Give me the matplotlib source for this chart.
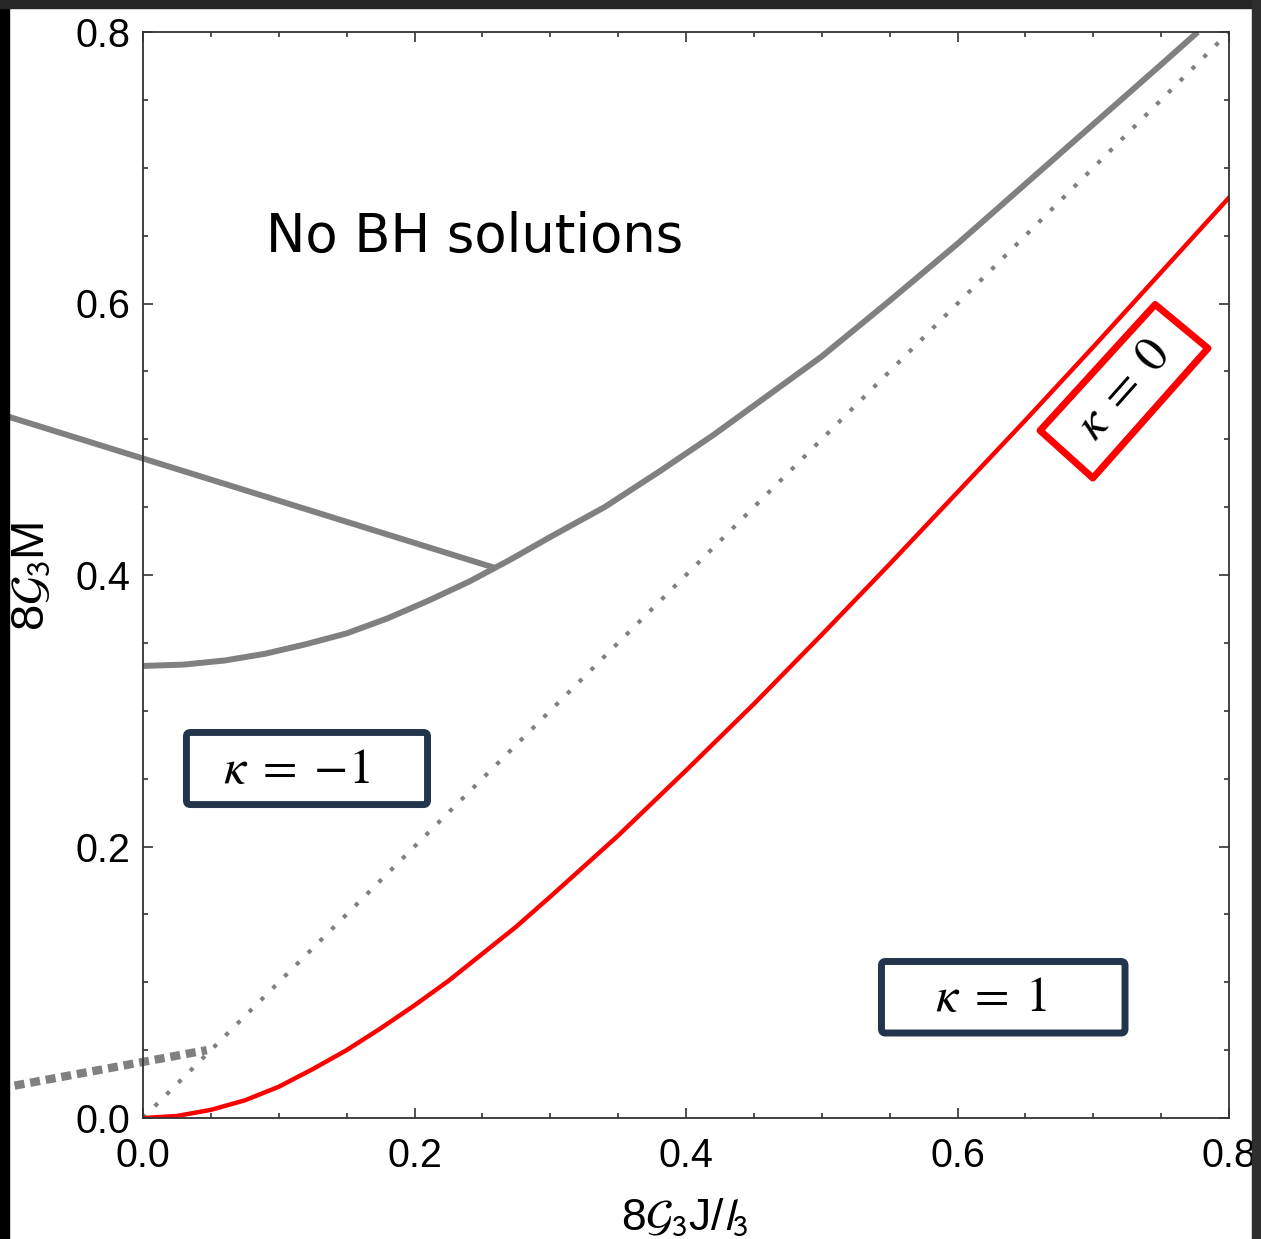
import numpy as np
import matplotlib
matplotlib.use("Agg")
import matplotlib.pyplot as plt
from matplotlib.patches import Rectangle, FancyBboxPatch, Polygon

plt.rcParams['font.family'] = ['Liberation Sans', 'DejaVu Sans']
plt.rcParams['mathtext.fontset'] = 'stixsans'

# upper grey boundary (no BH solutions above it)
J_upper = [0.0, 0.03, 0.06, 0.09, 0.12, 0.15, 0.18, 0.21, 0.24, 0.27, 0.30, 0.34,
           0.38, 0.42, 0.46, 0.50, 0.55, 0.60, 0.65, 0.70, 0.75, 0.777]
M_upper = [0.333, 0.334, 0.337, 0.342, 0.349, 0.357, 0.368, 0.381, 0.395, 0.411, 0.428, 0.450,
           0.476, 0.503, 0.532, 0.561, 0.602, 0.644, 0.688, 0.732, 0.776, 0.8]

# red kappa = 0 curve
J_red = [0.0, 0.025, 0.05, 0.075, 0.1, 0.125, 0.15, 0.175, 0.2, 0.225, 0.25, 0.275, 0.3,
         0.35, 0.4, 0.45, 0.5, 0.55, 0.6, 0.65, 0.7, 0.75, 0.8]
M_red = [0.0, 0.0015, 0.006, 0.013, 0.023, 0.036, 0.05, 0.066, 0.083, 0.101, 0.121, 0.141, 0.163,
         0.208, 0.256, 0.305, 0.356, 0.408, 0.461, 0.514, 0.568, 0.623, 0.678]

# straight grey segment coming in from the left
J_seg = [-0.11, 0.26]
M_seg = [0.52, 0.405]

# thick dotted segment near the origin
J_dash = [-0.11, 0.047]
M_dash = [0.021, 0.050]

# dotted diagonal M = J
J_diag = [0.0, 0.8]
M_diag = [0.0, 0.8]

ticks = [0.0, 0.2, 0.4, 0.6, 0.8]
tick_labels = ['0.0', '0.2', '0.4', '0.6', '0.8']

W, H = 1261, 1239
fig = plt.figure(figsize=(W / 100, H / 100), dpi=100)
ax = fig.add_axes([143 / W, 121 / H, 1086 / W, 1086 / H])

grey = '#808080'
ax.plot(J_diag, M_diag, color=grey, lw=3, linestyle=(0, (1, 3)), dash_capstyle='butt')
ax.plot(J_upper, M_upper, color=grey, lw=4.3, solid_capstyle='butt')
ax.plot(J_seg, M_seg, color=grey, lw=4.3, clip_on=False, solid_capstyle='butt')
ax.plot(J_dash, M_dash, color=grey, lw=6, linestyle=(0, (1.2, 0.7)),
        dash_capstyle='butt', clip_on=False)
ax.plot(J_red, M_red, color='red', lw=3.2)

ax.set_xlim(0, 0.8)
ax.set_ylim(0, 0.8)
ax.set_xticks(ticks)
ax.set_xticklabels(tick_labels)
ax.set_yticks(ticks)
ax.set_yticklabels(tick_labels)
ax.set_xticks(np.arange(0, 0.81, 0.05), minor=True)
ax.set_yticks(np.arange(0, 0.81, 0.05), minor=True)
ax.tick_params(which='both', direction='in', top=True, right=True, width=1.1,
               color='#222222')
ax.tick_params(which='major', length=7.2, labelsize=28.5)
ax.tick_params(which='minor', length=3.6)
ax.tick_params(axis='x', pad=14)
ax.tick_params(axis='y', pad=9)
for s in ax.spines.values():
    s.set_linewidth(1.3)
    s.set_color('#333333')

# region labels
ax.text(0.2442, 0.638, 'No BH solutions', family='DejaVu Sans', fontsize=38,
        ha='center', va='baseline')

navy = '#22354c'
kfont = dict(math_fontfamily='stix', fontsize=36)
ax.add_patch(FancyBboxPatch((0.032, 0.2309), 0.1776, 0.0531,
                            boxstyle='round,pad=0,rounding_size=0.003',
                            fc='white', ec=navy, lw=5, clip_on=False))
ax.text(0.1127, 0.2564, r'$\kappa\;=\;{-1}$', ha='center', va='center', **kfont)

ax.add_patch(FancyBboxPatch((0.544, 0.0626), 0.1794, 0.0527,
                            boxstyle='round,pad=0,rounding_size=0.003',
                            fc='white', ec=navy, lw=5, clip_on=False))
ax.text(0.6247, 0.0884, r'$\kappa\;=\;1$', ha='center', va='center', **kfont)

ax.add_patch(Polygon([[0.6608, 0.5064], [0.7456, 0.5993], [0.7845, 0.5670], [0.6997, 0.4714]],
                     closed=True, fc='white', ec='red', lw=5, joinstyle='round'))
ax.text(0.7227, 0.5367, r'$\kappa\;=\;0$', rotation=48.4, ha='center', va='center',
        rotation_mode='anchor', **kfont)

# axis labels
fig.text(685 / W, 1 - 1218 / H, r'8$\mathcal{G}_3$J/$l_3$', fontsize=32,
         ha='center', va='center')
fig.text(31 / W, 1 - 576 / H, r'8$\mathcal{G}_3$M', fontsize=34, rotation=90,
         ha='center', va='center')

# dark screenshot border
fig.add_artist(Rectangle((0, 0), 9 / W, 1, transform=fig.transFigure,
                         color='black', zorder=20))
fig.add_artist(Rectangle((0, 1 - 8 / H), 1, 8 / H, transform=fig.transFigure,
                         color='#262626', zorder=20))
fig.add_artist(Rectangle((1252 / W, 0), 9 / W, 1, transform=fig.transFigure,
                         color='#2e2e2e', zorder=20))

fig.savefig('out.png', dpi=100)
